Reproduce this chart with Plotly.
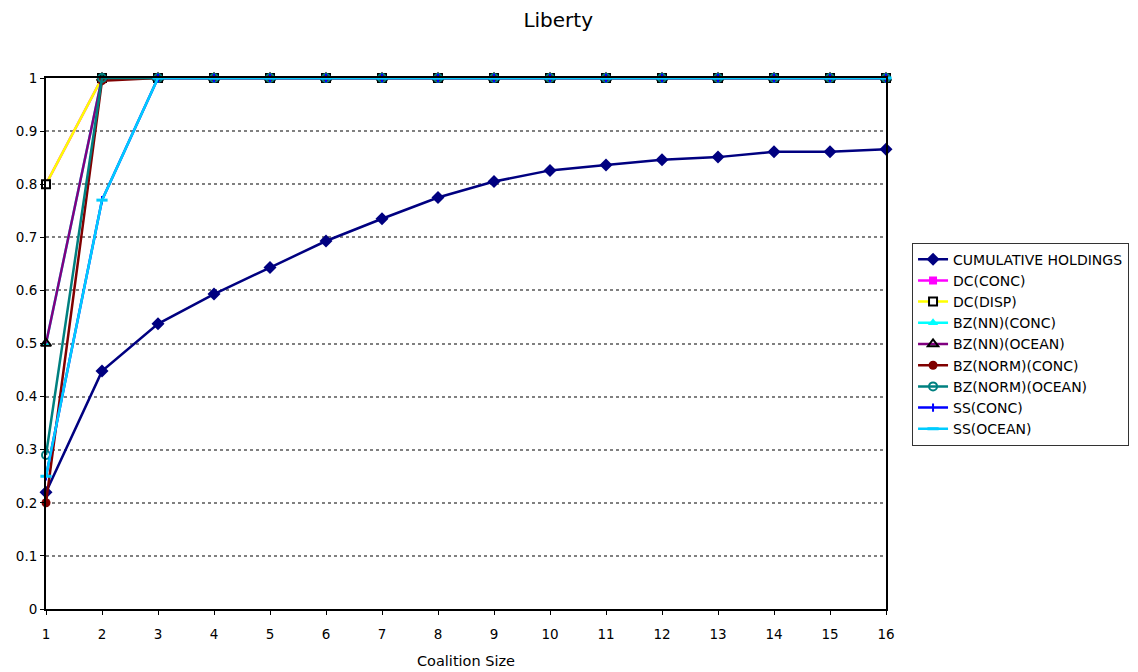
import plotly.graph_objects as go

x = list(range(1, 17))
cumulative = [0.22, 0.448, 0.537, 0.593, 0.643, 0.693, 0.735, 0.775, 0.805, 0.826,
              0.836, 0.846, 0.851, 0.861, 0.861, 0.866]
dc_conc = [0.80] + [1.0] * 15
dc_disp = [0.80] + [1.0] * 15
bz_nn_conc = [0.50] + [1.0] * 15
bz_nn_ocean = [0.50] + [1.0] * 15
bz_norm_conc = [0.20, 0.995] + [1.0] * 14
bz_norm_ocean = [0.29] + [1.0] * 15
ss_conc = [0.25, 0.77] + [1.0] * 14
ss_ocean = [0.25, 0.77] + [1.0] * 14

series = [
    ("CUMULATIVE HOLDINGS", cumulative, "#000080", dict(symbol="diamond", size=10, color="#000080")),
    ("DC(CONC)", dc_conc, "#FF00FF", dict(symbol="square", size=8, color="#FF00FF")),
    ("DC(DISP)", dc_disp, "#FFFF00", dict(symbol="square", size=8, color="white", line=dict(color="black", width=2))),
    ("BZ(NN)(CONC)", bz_nn_conc, "#00FFFF", dict(symbol="triangle-up", size=9, color="#00FFFF")),
    ("BZ(NN)(OCEAN)", bz_nn_ocean, "#800080", dict(symbol="triangle-up-open", size=9, color="black", line=dict(color="black", width=2))),
    ("BZ(NORM)(CONC)", bz_norm_conc, "#800000", dict(symbol="circle", size=9, color="#800000")),
    ("BZ(NORM)(OCEAN)", bz_norm_ocean, "#008080", dict(symbol="circle-open", size=8, color="#008080", line=dict(color="#008080", width=2))),
    ("SS(CONC)", ss_conc, "#0000FF", dict(symbol="line-ns", size=6, color="#0000FF", line=dict(color="#0000FF", width=2))),
    ("SS(OCEAN)", ss_ocean, "#00CCFF", dict(symbol="line-ew", size=8, color="#00CCFF", line=dict(color="#00CCFF", width=3))),
]

fig = go.Figure()
for i, (name, vals, col, mk) in enumerate(series):
    fig.add_trace(go.Scatter(
        x=x, y=vals, name=name, mode="lines+markers",
        line=dict(color=col, width=2.5), marker=mk,
        cliponaxis=False, legendgroup=f"g{i}",
    ))

fig.update_layout(
    width=1138, height=672,
    paper_bgcolor="white", plot_bgcolor="white",
    margin=dict(l=38, r=260, t=70, b=71, autoexpand=False),
    font=dict(family="DejaVu Sans", size=13, color="black"),
    title=dict(text="Liberty", x=0.4835, xanchor="center", xref="container", yref="container",
               y=0.982, yanchor="middle",
               font=dict(size=20, family="DejaVu Sans", color="black")),
    showlegend=True,
    legend=dict(x=1.031, y=0.69, xanchor="left", yanchor="top",
                bordercolor="#333333", borderwidth=1, bgcolor="white",
                font=dict(size=14, family="DejaVu Sans", color="black"),
                traceorder="grouped", tracegroupgap=0),
    xaxis=dict(range=[1, 16], tickmode="array", tickvals=x, ticktext=[str(v) for v in x],
               showgrid=False, zeroline=False, showline=True, linecolor="black", linewidth=2,
               mirror=True, ticks="outside", ticklen=4, tickcolor="black",
               ticklabelstandoff=8, automargin=False,
               title=dict(text="Coalition Size", font=dict(size=14.5), standoff=15),
               tickfont=dict(size=13.5)),
    yaxis=dict(range=[0, 1], tickmode="array", tickvals=[i / 10 for i in range(11)],
               ticktext=["0", "0.1", "0.2", "0.3", "0.4", "0.5", "0.6", "0.7", "0.8", "0.9", "1"],
               showgrid=True, gridcolor="#808080", griddash="dot", gridwidth=2,
               zeroline=False, showline=True, linecolor="black", linewidth=2, mirror=True,
               automargin=False,
               ticks="outside", ticklen=4, tickcolor="black", tickfont=dict(size=13.5)),
)

fig.write_html("out.html")
